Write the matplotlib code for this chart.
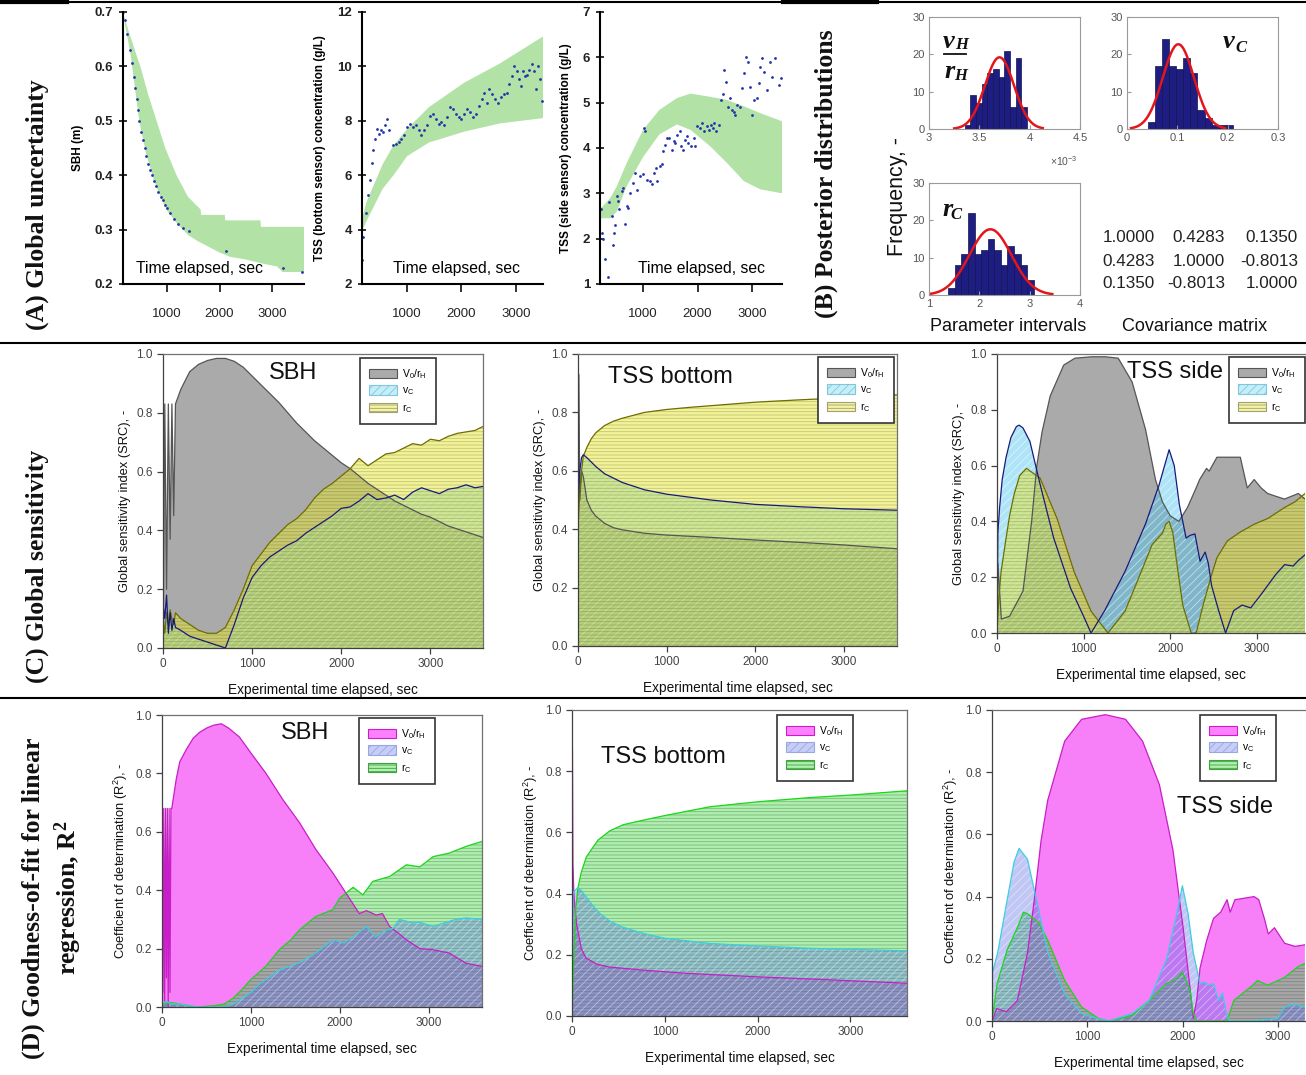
import numpy as np
import matplotlib
matplotlib.use('Agg')
import matplotlib.pyplot as plt
from matplotlib.patches import Patch
from matplotlib.lines import Line2D

plt.rcParams['font.family'] = ['Liberation Sans', 'DejaVu Sans']
plt.rcParams['mathtext.default'] = 'regular'
plt.rcParams['hatch.linewidth'] = 0.6

W, H = 1306, 1075

# ---------------- (A) global uncertainty ----------------
sbh_band_t = [153, 300, 490, 650, 800, 965, 1180, 1400, 1640, 1650, 2100, 2110, 2780, 2790, 3610]
sbh_band_hi = [0.70, 0.655, 0.60, 0.545, 0.50, 0.45, 0.40, 0.36, 0.337, 0.327, 0.327, 0.317, 0.317, 0.305, 0.305]
sbh_lo_t = [153, 300, 470, 600, 750, 900, 1000, 1200, 1400, 1600, 1800, 2000, 2200, 2500, 2800, 3100, 3200, 3610]
sbh_band_lo = [0.70, 0.625, 0.50, 0.44, 0.39, 0.355, 0.335, 0.31, 0.29, 0.278, 0.268, 0.258, 0.25, 0.245, 0.238, 0.232, 0.222, 0.222]
sbh_t = [153, 200, 240, 290, 335, 370, 390, 425, 445, 470, 510, 545, 580, 605, 645, 680, 715, 750,
         795, 830, 880, 920, 965, 1000, 1055, 1135, 1205, 1305, 1410, 2120, 3205, 3580]
sbh_v = [0.70, 0.685, 0.66, 0.63, 0.607, 0.58, 0.56, 0.54, 0.52, 0.50, 0.48, 0.465, 0.45, 0.435, 0.42, 0.41, 0.40, 0.39,
         0.38, 0.37, 0.36, 0.355, 0.345, 0.34, 0.33, 0.32, 0.31, 0.303, 0.297, 0.26, 0.23, 0.222]

bot_band_t = [160, 250, 400, 550, 750, 1000, 1400, 2050, 2700, 3500]
bot_band_hi = [4.3, 5.0, 5.7, 6.4, 7.1, 7.7, 8.5, 9.4, 10.1, 11.1]
bot_band_lo = [3.9, 4.3, 4.9, 5.5, 6.0, 6.7, 7.2, 7.6, 7.9, 8.1]
bot_t = [177, 197, 243, 276, 316, 355, 375, 408, 441, 474, 513, 553, 592, 632, 671, 737, 789, 842, 895, 947,
         1000, 1053, 1105, 1158, 1211, 1263, 1316, 1368, 1421, 1474, 1526, 1579, 1632, 1684, 1737, 1790, 1842,
         1895, 1947, 2000, 2053, 2105, 2158, 2211, 2263, 2316, 2369, 2421, 2461, 2513, 2566, 2619, 2671, 2724,
         2776, 2829, 2882, 2921, 2961, 3013, 3053, 3092, 3132, 3171, 3211, 3250, 3290, 3329, 3369, 3408, 3448, 3487]
bot_v = [2.87, 3.72, 4.62, 5.29, 5.83, 6.44, 6.92, 7.34, 7.71, 7.53, 7.65, 7.59, 7.83, 8.07, 7.65, 7.10, 7.16, 7.22, 7.34, 7.47,
         7.77, 7.89, 7.77, 7.83, 7.65, 7.47, 7.65, 7.83, 8.19, 8.25, 8.07, 7.89, 7.95, 7.83, 8.13, 8.49, 8.43,
         8.25, 8.13, 8.07, 8.25, 8.43, 8.31, 8.13, 8.25, 8.55, 8.80, 9.04, 8.67, 9.16, 8.98, 8.80, 8.67, 8.86,
         8.98, 9.04, 9.34, 9.64, 10.0, 9.82, 9.52, 9.28, 9.82, 9.64, 9.70, 9.88, 10.07, 9.82, 9.16, 10.0, 9.52, 8.74]

side_band_t = [210, 400, 520, 700, 1000, 1300, 1620, 1870, 2230, 2540, 2850, 3150, 3550]
side_band_hi = [2.65, 2.9, 3.16, 3.67, 4.4, 4.84, 5.1, 5.2, 5.13, 5.06, 4.92, 4.77, 4.59]
side_band_lo = [2.45, 2.45, 2.6, 3.16, 3.8, 4.3, 4.52, 4.4, 4.04, 3.67, 3.27, 3.09, 3.0]
side_t = [222, 241, 271, 302, 351, 382, 425, 443, 467, 486, 529, 547, 566, 608, 639, 670, 700, 731, 762, 823,
          854, 897, 946, 995, 1019, 1044, 1080, 1130, 1160, 1203, 1240, 1264, 1313, 1344, 1375, 1405, 1448, 1485,
          1528, 1559, 1589, 1632, 1669, 1693, 1730, 1773, 1804, 1834, 1877, 1926, 1957, 1988, 2037, 2080, 2123,
          2172, 2202, 2245, 2282, 2306, 2343, 2386, 2429, 2466, 2490, 2521, 2552, 2588, 2631, 2662, 2693, 2723,
          2772, 2815, 2858, 2895, 2919, 2956, 2999, 3042, 3091, 3122, 3152, 3183, 3226, 3275, 3324, 3367, 3428,
          3490, 3533]
side_v = [2.65, 2.13, 2.0, 1.55, 1.15, 2.8, 2.5, 1.87, 2.13, 2.3, 2.95, 2.83, 2.65, 3.05, 3.12, 2.32, 2.72, 2.68, 3.0, 3.23,
          3.45, 3.08, 3.38, 3.42, 4.45, 4.37, 3.3, 3.27, 3.2, 3.45, 3.56, 3.27, 3.6, 3.64, 3.93, 4.07, 4.22, 4.22,
          3.96, 4.15, 4.11, 4.29, 4.37, 4.04, 3.96, 4.18, 4.26, 4.11, 4.04, 4.22, 4.04, 4.48, 4.44, 4.55, 4.37,
          4.48, 4.4, 4.51, 4.44, 4.55, 4.37, 4.51, 5.06, 5.2, 5.72, 5.46, 4.9, 5.1, 4.84, 4.8, 4.73, 4.95,
          4.9, 5.32, 5.65, 6.01, 5.9, 5.35, 4.73, 5.06, 5.1, 5.43, 5.79, 5.98, 5.68, 5.28, 5.9, 5.57, 5.98,
          5.39, 5.54]

# ---------------- (B) posterior distributions ----------------
h1_edges = [3.355, 3.411, 3.468, 3.524, 3.580, 3.637, 3.693, 3.749, 3.806, 3.862, 3.918, 3.975]  # x 1e-3
h1_counts = [1, 9, 7, 12, 15, 16, 14, 21, 6, 19, 6]
h1_fit = [3.70, 0.145, 19.2]  # mean, sd, peak
h2_edges = [0.042, 0.056, 0.070, 0.084, 0.098, 0.112, 0.126, 0.140, 0.154, 0.168, 0.182, 0.196, 0.210]
h2_counts = [2, 17, 24, 17, 16, 19, 15, 5, 3, 1, 1, 1]
h2_fit = [0.102, 0.031, 22.7]
h3_edges = [1.38, 1.511, 1.642, 1.773, 1.904, 2.035, 2.166, 2.297, 2.428, 2.559, 2.690, 2.821, 2.952, 3.083]
h3_counts = [2, 8, 11, 22, 11, 12, 15, 12, 8, 13, 11, 8, 4]
h3_fit = [2.22, 0.42, 17.6]
cov_matrix = [['1.0000', '0.4283', '0.1350'],
              ['0.4283', '1.0000', '-0.8013'],
              ['0.1350', '-0.8013', '1.0000']]

# ---------------- (C) global sensitivity ----------------
c1_t = [0, 20, 40, 60, 80, 100, 120, 140, 200, 300, 400, 500, 600, 700, 800, 900, 1000, 1100, 1200, 1300, 1400,
        1500, 1600, 1700, 1800, 1900, 2000, 2100, 2200, 2300, 2400, 2500, 2600, 2700, 2800, 2900, 3000, 3100,
        3200, 3300, 3400, 3500, 3600]
c1_vh = [0.0, 0.83, 0.2, 0.83, 0.37, 0.83, 0.45, 0.83, 0.88, 0.94, 0.965, 0.978, 0.985, 0.985, 0.975, 0.955, 0.925,
         0.895, 0.865, 0.835, 0.80, 0.765, 0.735, 0.705, 0.68, 0.655, 0.63, 0.61, 0.585, 0.56, 0.54, 0.52, 0.50,
         0.485, 0.47, 0.455, 0.445, 0.43, 0.415, 0.405, 0.395, 0.385, 0.375]
c1_vc = [0.15, 0.1, 0.18, 0.05, 0.12, 0.06, 0.1, 0.07, 0.06, 0.04, 0.03, 0.02, 0.01, 0.0, 0.08, 0.17, 0.24, 0.28,
         0.31, 0.33, 0.35, 0.365, 0.39, 0.41, 0.43, 0.45, 0.475, 0.48, 0.5, 0.525, 0.505, 0.51, 0.52, 0.505, 0.53,
         0.545, 0.535, 0.525, 0.54, 0.545, 0.555, 0.545, 0.55]
c1_rc = [0.1, 0.05, 0.12, 0.08, 0.13, 0.1, 0.08, 0.12, 0.1, 0.08, 0.06, 0.05, 0.05, 0.07, 0.13, 0.2, 0.28, 0.32,
         0.36, 0.39, 0.42, 0.44, 0.47, 0.51, 0.54, 0.56, 0.585, 0.61, 0.645, 0.62, 0.64, 0.66, 0.665, 0.68, 0.695,
         0.69, 0.71, 0.705, 0.72, 0.73, 0.735, 0.74, 0.755]

c2_t = [0, 10, 20, 40, 60, 100, 150, 200, 300, 400, 500, 750, 1000, 1250, 1500, 2000, 2500, 3000, 3600]
c2_vh = [0.3, 0.93, 0.5, 0.6, 0.58, 0.5, 0.465, 0.445, 0.42, 0.405, 0.398, 0.386, 0.38, 0.376, 0.372, 0.363, 0.355,
         0.346, 0.333]
c2_vc = [0.47, 0.55, 0.6, 0.645, 0.655, 0.645, 0.63, 0.615, 0.59, 0.575, 0.56, 0.535, 0.52, 0.51, 0.5, 0.485, 0.477,
         0.47, 0.465]
c2_rc = [0.4, 0.47, 0.52, 0.6, 0.65, 0.68, 0.71, 0.73, 0.755, 0.77, 0.78, 0.8, 0.81, 0.817, 0.823, 0.835, 0.843,
         0.85, 0.86]

c3_vh_t = [0, 10, 50, 145, 300, 400, 460, 520, 615, 770, 900, 1090, 1250, 1400, 1560, 1715, 1830, 1910, 2000, 2100,
           2200, 2300, 2340, 2420, 2450, 2540, 2700, 2810, 2890, 2970, 3050, 3125, 3220, 3320, 3400, 3480, 3557]
c3_vh = [0.0, 0.25, 0.05, 0.06, 0.15, 0.4, 0.6, 0.72, 0.85, 0.96, 0.985, 0.99, 0.99, 0.985, 0.9, 0.73, 0.55, 0.47,
         0.42, 0.4, 0.45, 0.52, 0.55, 0.59, 0.58, 0.63, 0.63, 0.63, 0.52, 0.55, 0.52, 0.5, 0.49, 0.48, 0.49, 0.5, 0.48]
c3_vc_t = [0, 10, 30, 60, 105, 160, 224, 255, 300, 380, 500, 655, 850, 1000, 1086, 1243, 1478, 1714, 1871, 1988,
           2047, 2106, 2184, 2230, 2286, 2345, 2404, 2440, 2478, 2560, 2640, 2733, 2830, 2930, 3030, 3125, 3220,
           3322, 3420, 3480, 3557]
c3_vc = [0.0, 0.36, 0.45, 0.55, 0.63, 0.7, 0.74, 0.745, 0.735, 0.687, 0.53, 0.34, 0.16, 0.06, 0.0, 0.08, 0.22, 0.39,
         0.53, 0.657, 0.6, 0.46, 0.34, 0.35, 0.355, 0.257, 0.29, 0.25, 0.17, 0.08, 0.0, 0.08, 0.1, 0.09, 0.13, 0.17,
         0.21, 0.245, 0.24, 0.26, 0.28]
c3_rc_t = [0, 20, 47, 100, 145, 200, 263, 340, 498, 694, 890, 1086, 1282, 1478, 1640, 1792, 1910, 1950, 1988, 2030,
           2090, 2145, 2243, 2300, 2380, 2470, 2540, 2660, 2800, 2970, 3125, 3322, 3440, 3557]
c3_rc = [0.0, 0.12, 0.22, 0.33, 0.42, 0.5, 0.565, 0.59, 0.555, 0.41, 0.22, 0.078, 0.0, 0.078, 0.2, 0.317, 0.358,
         0.39, 0.4, 0.36, 0.22, 0.1, 0.0, 0.0, 0.1, 0.2, 0.27, 0.33, 0.36, 0.39, 0.41, 0.45, 0.47, 0.5]

# ---------------- (D) R^2 ----------------
d1_vh_t = [0, 10, 20, 30, 40, 50, 60, 70, 80, 90, 100, 110, 120, 160, 200, 270, 350, 420, 500, 580, 667, 750, 870,
           1000, 1170, 1360, 1550, 1730, 1920, 2070, 2220, 2300, 2410, 2480, 2560, 2650, 2750, 2900, 3050, 3230,
           3420, 3600]
d1_vh = [0.52, 0.05, 0.68, 0.02, 0.68, 0.1, 0.68, 0.0, 0.68, 0.05, 0.68, 0.68, 0.7, 0.78, 0.84, 0.88, 0.92, 0.94,
         0.955, 0.965, 0.97, 0.955, 0.925, 0.87, 0.8, 0.71, 0.63, 0.54, 0.46, 0.39, 0.32, 0.33, 0.315, 0.32, 0.276,
         0.255, 0.23, 0.2, 0.196, 0.185, 0.15, 0.139]
d1_vc_t = [0, 50, 100, 200, 400, 700, 800, 900, 1000, 1100, 1200, 1320, 1450, 1600, 1750, 1920, 2050, 2150, 2300,
           2400, 2500, 2600, 2670, 2800, 2900, 3050, 3200, 3300, 3420, 3600]
d1_vc = [0.01, 0.02, 0.01, 0.01, 0.0, 0.0, 0.01, 0.03, 0.05, 0.08, 0.1, 0.128, 0.14, 0.16, 0.19, 0.23, 0.22, 0.24,
         0.276, 0.24, 0.26, 0.27, 0.3, 0.29, 0.29, 0.276, 0.29, 0.3, 0.305, 0.3]
d1_rc_t = [0, 100, 200, 400, 600, 700, 800, 900, 1000, 1170, 1320, 1450, 1550, 1730, 1920, 2000, 2150, 2260, 2370,
           2560, 2750, 2900, 3050, 3230, 3420, 3600]
d1_rc = [0.01, 0.015, 0.01, 0.0, 0.005, 0.01, 0.03, 0.06, 0.094, 0.14, 0.196, 0.23, 0.265, 0.31, 0.333, 0.373, 0.41,
         0.384, 0.43, 0.447, 0.487, 0.48, 0.515, 0.527, 0.55, 0.567]

d2_vh_t = [0, 5, 10, 20, 30, 50, 100, 150, 263, 400, 767, 1200, 2000, 2800, 3610]
d2_vh = [1.0, 0.86, 0.5, 0.4, 0.36, 0.3, 0.22, 0.19, 0.17, 0.16, 0.15, 0.14, 0.128, 0.118, 0.107]
d2_vc_t = [0, 10, 30, 65, 100, 150, 227, 300, 407, 550, 767, 1000, 1490, 2000, 2570, 3000, 3610]
d2_vc = [0.0, 0.4, 0.41, 0.42, 0.41, 0.39, 0.36, 0.335, 0.31, 0.29, 0.27, 0.254, 0.237, 0.229, 0.221, 0.218, 0.213]
d2_rc_t = [0, 20, 40, 65, 100, 155, 280, 407, 550, 767, 1000, 1490, 2000, 2570, 3000, 3610]
d2_rc = [0.0, 0.2, 0.35, 0.42, 0.47, 0.52, 0.575, 0.605, 0.625, 0.64, 0.655, 0.684, 0.7, 0.714, 0.722, 0.736]

d3_vh_t = [0, 50, 150, 266, 373, 444, 515, 585, 763, 940, 1189, 1402, 1580, 1757, 1899, 2006, 2077, 2112, 2148,
           2183, 2254, 2325, 2400, 2467, 2500, 2550, 2650, 2751, 2800, 2858, 2900, 2964, 3071, 3180, 3284]
d3_vh = [0.0, 0.04, 0.03, 0.066, 0.22, 0.39, 0.58, 0.71, 0.9, 0.97, 0.985, 0.97, 0.9, 0.76, 0.55, 0.3, 0.11, 0.01,
         0.066, 0.17, 0.26, 0.33, 0.35, 0.39, 0.35, 0.39, 0.395, 0.4, 0.39, 0.33, 0.28, 0.3, 0.25, 0.24, 0.245]
d3_vc_t = [0, 60, 124, 231, 284, 373, 480, 585, 763, 940, 1100, 1225, 1473, 1650, 1828, 1934, 1998, 2058, 2112,
           2183, 2230, 2280, 2325, 2378, 2420, 2467, 2503, 2700, 2900, 3000, 3071, 3178, 3284]
d3_vc = [0.15, 0.22, 0.33, 0.51, 0.555, 0.52, 0.37, 0.22, 0.088, 0.024, 0.008, 0.0, 0.024, 0.066, 0.195, 0.335,
         0.435, 0.345, 0.22, 0.12, 0.125, 0.115, 0.12, 0.066, 0.09, 0.013, 0.0, 0.0, 0.005, 0.008, 0.045, 0.055, 0.045]
d3_rc_t = [0, 53, 160, 266, 330, 373, 480, 585, 763, 940, 1118, 1225, 1473, 1650, 1828, 1934, 1998, 2077, 2112,
           2148, 2450, 2480, 2538, 2716, 2787, 2893, 3071, 3213, 3284]
d3_rc = [0.0, 0.12, 0.23, 0.3, 0.35, 0.345, 0.32, 0.26, 0.13, 0.045, 0.008, 0.0, 0.018, 0.066, 0.12, 0.136, 0.158,
         0.1, 0.024, 0.0, 0.0, 0.013, 0.066, 0.11, 0.13, 0.115, 0.14, 0.175, 0.185]

fig = plt.figure(figsize=(W / 100, H / 100), dpi=100)


def px_box(x0, y0, x1, y1):
    return [x0 / W, 1 - y1 / H, (x1 - x0) / W, (y1 - y0) / H]


def fx(x):
    return x / W


def fy(y):
    return 1 - y / H


# ---- panel A ----
def unc_panel(box, xlim, ylim, yticks, ylabel, bt_hi, hi, bt_lo, lo, dt, dv, txt_x):
    ax = fig.add_axes(px_box(*box))
    poly_x = list(bt_hi) + list(bt_lo)[::-1]
    poly_y = list(hi) + list(lo)[::-1]
    ax.fill(poly_x, poly_y, color='#b3e2a6', lw=0)
    ax.plot(dt, dv, 'o', ms=2.0, color='#2233aa', mec='none')
    ax.set_xlim(xlim)
    ax.set_ylim(ylim)
    ax.set_xticks([1000, 2000, 3000])
    ax.set_yticks(yticks)
    for s in ['top', 'right']:
        ax.spines[s].set_visible(False)
    for s in ['left', 'bottom']:
        ax.spines[s].set_linewidth(1.5)
    ax.tick_params(axis='x', direction='out', length=6, width=1.3, pad=11, labelsize=9.5, colors='#222222')
    ax.tick_params(axis='y', direction='inout', length=6, width=1.3, pad=4, labelsize=9.5, colors='#222222')
    for lab in ax.get_yticklabels():
        lab.set_fontweight('bold')
    ax.set_ylabel(ylabel, fontsize=8.5, fontweight='bold', labelpad=8)
    ax.text(txt_x, 0.03, 'Time elapsed, sec', transform=ax.transAxes, ha='center', va='bottom', fontsize=11.3)
    return ax


ax = unc_panel((123, 12, 304, 284), (160, 3610), (0.2, 0.7), [0.2, 0.3, 0.4, 0.5, 0.6, 0.7], 'SBH (m)',
               sbh_band_t, sbh_band_hi, sbh_lo_t, sbh_band_lo, sbh_t, sbh_v, 0.42)
ax = unc_panel((362, 12, 543, 284), (170, 3500), (2, 12), [2, 4, 6, 8, 10, 12],
               'TSS (bottom sensor) concentration (g/L)',
               bot_band_t, bot_band_hi, bot_band_t, bot_band_lo, bot_t, bot_v, 0.52)
ax = unc_panel((600, 12, 782, 284), (210, 3550), (1, 7), [1, 2, 3, 4, 5, 6, 7],
               'TSS (side sensor) concentration (g/L)',
               side_band_t, side_band_hi, side_band_t, side_band_lo, side_t, side_v, 0.555)


# ---- panel B ----
def hist_panel(box, edges, counts, fit, xlim, xticks, xticklabels, fit_range):
    ax = fig.add_axes(px_box(*box))
    edges = np.asarray(edges)
    ax.bar(edges[:-1], counts, width=np.diff(edges), align='edge', color='#1d1d82', edgecolor='#12124f', lw=0.5)
    xx = np.linspace(fit_range[0], fit_range[1], 200)
    ax.plot(xx, fit[2] * np.exp(-0.5 * ((xx - fit[0]) / fit[1]) ** 2), color='#e3161c', lw=1.8)
    ax.set_xlim(xlim)
    ax.set_ylim(0, 30)
    ax.set_xticks(xticks)
    ax.set_xticklabels(xticklabels)
    ax.set_yticks([0, 10, 20, 30])
    for s in ax.spines.values():
        s.set_color('#9a9a9a')
        s.set_linewidth(0.8)
    ax.tick_params(direction='in', length=3, labelsize=8, colors='#9a9a9a', labelcolor='#555555', pad=3)
    return ax


hist_panel((929, 17, 1080, 129), h1_edges, h1_counts, h1_fit, (3, 4.5), [3, 3.5, 4, 4.5],
           ['3', '3.5', '4', '4.5'], (3.25, 4.13))
hist_panel((1127, 17, 1278, 129), h2_edges, h2_counts, h2_fit, (0, 0.3), [0, 0.1, 0.2, 0.3],
           ['0', '0.1', '0.2', '0.3'], (0.008, 0.195))
hist_panel((929, 183, 1080, 295), h3_edges, h3_counts, h3_fit, (1, 4), [1, 2, 3, 4],
           ['1', '2', '3', '4'], (1.0, 3.45))
fig.text(fx(1050), fy(161), r'$\times$10$^{-3}$', fontsize=7.5, color='#555555', va='center')

serif = ['Liberation Serif', 'DejaVu Serif']
bi = dict(family=serif, fontweight='bold', fontstyle='italic', color='#111111')
fig.text(fx(943), fy(41), 'v', fontsize=19, va='center', **bi)
fig.text(fx(955), fy(45), 'H', fontsize=12, va='center', **bi)
fig.add_artist(Line2D([fx(944), fx(966)], [fy(54), fy(54)], color='#111111', lw=1.3))
fig.text(fx(944), fy(71), 'r', fontsize=19, va='center', **bi)
fig.text(fx(954), fy(76), 'H', fontsize=12, va='center', **bi)
fig.text(fx(1223), fy(42), 'v', fontsize=19, va='center', **bi)
fig.text(fx(1235), fy(48), 'C', fontsize=12, va='center', **bi)
fig.text(fx(942), fy(209), 'r', fontsize=19, va='center', **bi)
fig.text(fx(950), fy(215), 'C', fontsize=12, va='center', **bi)

col_x = [1155, 1225, 1298]
row_y = [238, 261, 283]
for i, row in enumerate(cov_matrix):
    for j, val in enumerate(row):
        fig.text(fx(col_x[j]), fy(row_y[i]), val, ha='right', va='center', fontsize=12.3, color='#222222')
fig.text(fx(1008), fy(326), 'Parameter intervals', ha='center', va='center', fontsize=13, color='#111111')
fig.text(fx(1195), fy(326), 'Covariance matrix', ha='center', va='center', fontsize=13, color='#111111')
fig.text(fx(897), fy(196), 'Frequency, -', rotation=90, ha='center', va='center', fontsize=15.5, color='#111111')


# ---- panels C and D ----
def layer_panel(box, xlim, layers, line_order, ylabel, title, title_xy, handles, labels, leg_xy, hide_right=False):
    ax = fig.add_axes(px_box(*box))
    for L in layers:
        ax.fill_between(L['t'], 0, L['v'], facecolor=L['face'], alpha=L['alpha'], lw=0)
        if L.get('hatch'):
            ax.fill_between(L['t'], 0, L['v'], facecolor='none', edgecolor=L['hcol'], hatch=L['hatch'], lw=0)
    for k in line_order:
        L = layers[k]
        ax.plot(L['t'], L['v'], color=L['edge'], lw=0.9)
    ax.set_xlim(xlim)
    ax.set_ylim(0, 1)
    ax.set_xticks([0, 1000, 2000, 3000])
    ax.set_yticks([0, 0.2, 0.4, 0.6, 0.8, 1.0])
    ax.set_yticklabels(['0.0', '0.2', '0.4', '0.6', '0.8', '1.0'])
    for s in ax.spines.values():
        s.set_color('#707070')
        s.set_linewidth(0.9)
    ax.spines['left'].set_color('#404040')
    ax.spines['bottom'].set_color('#404040')
    if hide_right:
        ax.spines['right'].set_visible(False)
    ax.tick_params(direction='out', length=4, width=0.9, labelsize=8.5, colors='#404040', labelcolor='#444444')
    ax.set_xlabel('Experimental time elapsed, sec', fontsize=9.8, labelpad=9, color='#111111')
    ax.set_ylabel(ylabel, fontsize=9.3, labelpad=4, color='#111111')
    fig.text(fx(title_xy[0]), fy(title_xy[1]), title, ha='center', va='center', fontsize=17, color='#111111')
    leg = ax.legend(handles, labels, loc='upper left', bbox_to_anchor=(fx(leg_xy[0]), fy(leg_xy[1])),
                    bbox_transform=fig.transFigure, fontsize=7.5, frameon=True, fancybox=False,
                    edgecolor='#333333', framealpha=1, borderpad=0.85, labelspacing=0.45, handlelength=2.7,
                    handleheight=1.0, handletextpad=0.5, borderaxespad=0)
    leg.get_frame().set_linewidth(1.2)
    return ax


def c_layers(t_vh, vh, t_vc, vc, t_rc, rc):
    return [dict(t=t_vh, v=vh, face='#646464', alpha=0.55, edge='#555555'),
            dict(t=t_vc, v=vc, face='#50c6ee', alpha=0.46, hatch='////', hcol=(1, 1, 1, 0.55), edge='#1a1a7a'),
            dict(t=t_rc, v=rc, face='#e6e632', alpha=0.5, hatch='-----', hcol=(0.35, 0.35, 0.15, 0.3),
                 edge='#6e6e00')]


def d_layers(t_vh, vh, t_vc, vc, t_rc, rc):
    return [dict(t=t_vh, v=vh, face='#f000f0', alpha=0.5, edge='#c81ec8'),
            dict(t=t_rc, v=rc, face='#3cdc3c', alpha=0.42, hatch='-----', hcol=(0.25, 0.35, 0.25, 0.4),
                 edge='#18d818'),
            dict(t=t_vc, v=vc, face='#5a6ee6', alpha=0.38, hatch='////', hcol=(1, 1, 1, 0.45), edge='#38d0e0')]


c_handles = [Patch(facecolor='#aaaaaa', edgecolor='#555555', lw=0.8),
             Patch(facecolor='#c6eef8', edgecolor='#7fc8dc', hatch='////', lw=0.8),
             Patch(facecolor='#f4f4a4', edgecolor='#a0a070', hatch='-----', lw=0.8)]
d_handles = [Patch(facecolor='#ff80ff', edgecolor='#c81ec8', lw=0.8),
             Patch(facecolor='#c6cef8', edgecolor='#9aa6e0', hatch='////', lw=0.8),
             Patch(facecolor='#b0f0b0', edgecolor='#40a040', hatch='-----', lw=0.8)]
leg_labels = [r'V$_0$/r$_H$', r'v$_C$', r'r$_C$']
sens_label = 'Global sensitivity index (SRC), -'
r2_label = r'Coefficient of determination (R$^2$), -'

layer_panel((163, 354, 483, 648), (0, 3590), c_layers(c1_t, c1_vh, c1_t, c1_vc, c1_t, c1_rc), [0, 2, 1],
            sens_label, 'SBH', (293, 373), c_handles, leg_labels, (360, 358))
layer_panel((578, 354, 897, 646), (0, 3600), c_layers(c2_t, c2_vh, c2_t, c2_vc, c2_t, c2_rc), [0, 2, 1],
            sens_label, 'TSS bottom', (670, 377), c_handles, leg_labels, (818, 357))
layer_panel((997, 354, 1305, 633), (0, 3557), c_layers(c3_vh_t, c3_vh, c3_vc_t, c3_vc, c3_rc_t, c3_rc),
            [0, 2, 1], sens_label, 'TSS side', (1175, 372), c_handles, leg_labels, (1229, 357), hide_right=True)

layer_panel((162, 715, 482, 1007), (0, 3600), d_layers(d1_vh_t, d1_vh, d1_vc_t, d1_vc, d1_rc_t, d1_rc),
            [0, 1, 2], r2_label, 'SBH', (305, 733), d_handles, leg_labels, (359, 718))
layer_panel((572, 710, 907, 1016), (0, 3610), d_layers(d2_vh_t, d2_vh, d2_vc_t, d2_vc, d2_rc_t, d2_rc),
            [0, 1, 2], r2_label, 'TSS bottom', (663, 757), d_handles, leg_labels, (777, 715))
layer_panel((992, 710, 1305, 1021), (0, 3285), d_layers(d3_vh_t, d3_vh, d3_vc_t, d3_vc, d3_rc_t, d3_rc),
            [0, 1, 2], r2_label, 'TSS side', (1225, 807), d_handles, leg_labels, (1200, 715), hide_right=True)

# ---- row labels and separators ----
rowfont = dict(family=serif, fontweight='bold', fontsize=18.5, rotation=90, ha='center', va='center',
               color='#111111')
fig.text(fx(37), fy(205), '(A) Global uncertainty', **rowfont)
fig.text(fx(826), fy(174), '(B) Posterior distributions', **rowfont)
fig.text(fx(37), fy(566), '(C) Global sensitivity', **rowfont)
fig.text(fx(53), fy(898), '(D) Goodness-of-fit for linear\nregression, R$^2$', multialignment='center',
         linespacing=1.3, **rowfont)

for yy in [2, 343, 698]:
    fig.add_artist(Line2D([0, 1], [fy(yy), fy(yy)], color='black', lw=1.5))
fig.add_artist(Line2D([0, fx(67)], [fy(2), fy(2)], color='black', lw=3))
fig.add_artist(Line2D([fx(783), fx(877)], [fy(2), fy(2)], color='black', lw=3))

fig.savefig('out.png', dpi=100)
